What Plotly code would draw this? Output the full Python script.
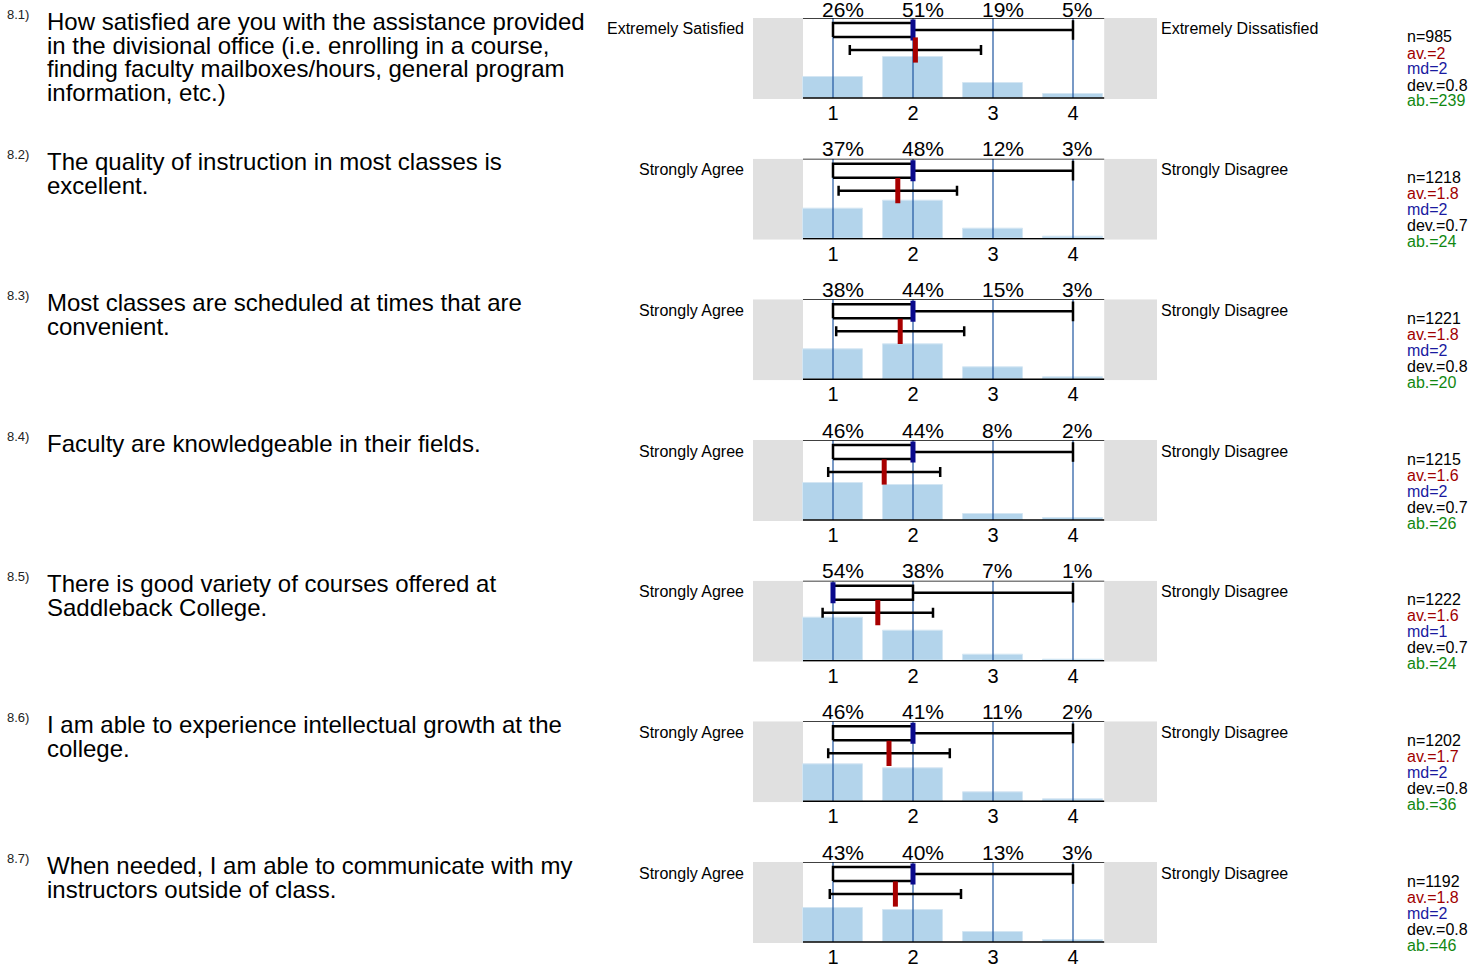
import plotly.graph_objects as go

# ---- data ----
q_ids = ["8.1)", "8.2)", "8.3)", "8.4)", "8.5)", "8.6)", "8.7)"]
questions = [
    ["How satisfied are you with the assistance provided",
     "in the divisional office (i.e. enrolling in a course,",
     "finding faculty mailboxes/hours, general program",
     "information, etc.)"],
    ["The quality of instruction in most classes is", "excellent."],
    ["Most classes are scheduled at times that are", "convenient."],
    ["Faculty are knowledgeable in their fields."],
    ["There is good variety of courses offered at", "Saddleback College."],
    ["I am able to experience intellectual growth at the", "college."],
    ["When needed, I am able to communicate with my", "instructors outside of class."],
]
left_labels = ["Extremely Satisfied"] + ["Strongly Agree"] * 6
right_labels = ["Extremely Dissatisfied"] + ["Strongly Disagree"] * 6
scale = [1, 2, 3, 4]
pcts = [
    [26, 51, 19, 5],
    [37, 48, 12, 3],
    [38, 44, 15, 3],
    [46, 44, 8, 2],
    [54, 38, 7, 1],
    [46, 41, 11, 2],
    [43, 40, 13, 3],
]
n_vals = [985, 1218, 1221, 1215, 1222, 1202, 1192]
means = [2.03, 1.81, 1.84, 1.64, 1.56, 1.70, 1.78]
devs = [0.82, 0.74, 0.80, 0.70, 0.69, 0.76, 0.82]
medians = [2, 2, 2, 2, 1, 2, 2]
q1s = [1, 1, 1, 1, 1, 1, 1]
q3s = [2, 2, 2, 2, 2, 2, 2]
mins = [1, 1, 1, 1, 1, 1, 1]
maxs = [4, 4, 4, 4, 4, 4, 4]
abstain = [239, 24, 20, 26, 24, 36, 46]

W, H = 1484, 968


def px(x):
    return x / W


def py(y):
    return 1 - y / H


FONT = "Liberation Sans, Arial, sans-serif"
BAR_COL = "#b3d4eb"
GRID_COL = "#1f55a0"
RED = "#a80000"
NAVY = "#0a0a8c"

fig = go.Figure()
layout = {}
shapes = []
annotations = []

for i in range(7):
    top = 18 + 140.67 * i
    bot = top + 80
    n = "" if i == 0 else str(i + 1)
    xa, ya = "x" + n, "y" + n

    layout["xaxis" + n] = dict(
        domain=[px(753), px(1157)], range=[0, 5.05], anchor=ya,
        tickvals=scale, ticktext=[str(s) for s in scale],
        tickfont=dict(size=20, color="black", family=FONT),
        showgrid=False, zeroline=False, showline=False, ticks="", fixedrange=True,
    )
    layout["yaxis" + n] = dict(
        domain=[py(bot + 1), py(top)], range=[-0.0125, 1], anchor=xa,
        showgrid=False, zeroline=False, showticklabels=False, fixedrange=True,
    )

    # grey side boxes and frame lines
    for x0, x1 in [(0, 0.625), (4.39, 5.05)]:
        shapes.append(dict(type="rect", xref=xa, yref=ya, x0=x0, x1=x1, y0=-0.0125, y1=1,
                           fillcolor="#e0e0e0", line=dict(width=0), layer="below"))
    for yy in [0, 1]:
        shapes.append(dict(type="line", xref=xa, yref=ya, x0=0.625, x1=4.39, y0=yy, y1=yy,
                           line=dict(color="black", width=1.5), layer="above"))

    # distribution bars
    fig.add_trace(go.Bar(
        x=scale, y=[p / 100 for p in pcts[i]], width=0.75, xaxis=xa, yaxis=ya,
        marker=dict(color=BAR_COL, line=dict(color="#d4e6f3", width=1)), hoverinfo="skip",
    ))

    # vertical scale lines
    vx, vy = [], []
    for s in scale:
        vx += [s, s, None]
        vy += [0, 1, None]
    fig.add_trace(go.Scatter(x=vx, y=vy, mode="lines", xaxis=xa, yaxis=ya,
                             line=dict(color=GRID_COL, width=1.2), hoverinfo="skip"))

    # box plot (quartiles + whiskers)
    yb, yt, yc = 0.763, 0.938, 0.85
    fig.add_trace(go.Scatter(
        x=[q1s[i], q3s[i], q3s[i], q1s[i], q1s[i], None, q3s[i], maxs[i], None, mins[i], q1s[i]],
        y=[yb, yb, yt, yt, yb, None, yc, yc, None, yc, yc],
        mode="lines", xaxis=xa, yaxis=ya, line=dict(color="black", width=2.5), hoverinfo="skip",
    ))
    fig.add_trace(go.Scatter(
        x=[maxs[i]], y=[yc], mode="markers", xaxis=xa, yaxis=ya,
        marker=dict(symbol="line-ns", size=14, line=dict(color="black", width=2.5)), hoverinfo="skip",
    ))
    fig.add_trace(go.Scatter(
        x=[medians[i]], y=[yc], mode="markers", xaxis=xa, yaxis=ya,
        marker=dict(symbol="line-ns", size=15, line=dict(color=NAVY, width=5)), hoverinfo="skip",
    ))

    # mean +/- standard deviation
    fig.add_trace(go.Scatter(
        x=[means[i]], y=[0.6], mode="markers", xaxis=xa, yaxis=ya,
        marker=dict(symbol="line-ns", size=18, line=dict(color=RED, width=5)),
        error_x=dict(type="data", array=[devs[i]], color="black", thickness=2.5, width=5),
        hoverinfo="skip",
    ))

    # percentages above (left-aligned just before each scale line)
    for s, p in zip(scale, pcts[i]):
        annotations.append(dict(xref=xa, yref="paper", x=s - 0.165, y=py(max(top - 10, 9)),
                                xanchor="left", yanchor="middle",
                                text=f"{p}%", showarrow=False,
                                font=dict(size=21, color="black", family=FONT)))

    # scale end labels
    annotations.append(dict(xref="paper", yref="paper", x=px(746), y=py(top + 11),
                            xanchor="right", yanchor="middle", text=left_labels[i], showarrow=False,
                            font=dict(size=16, color="black", family=FONT)))
    annotations.append(dict(xref="paper", yref="paper", x=px(1159), y=py(top + 11),
                            xanchor="left", yanchor="middle", text=right_labels[i], showarrow=False,
                            font=dict(size=16, color="black", family=FONT)))

    # question number and text
    annotations.append(dict(xref="paper", yref="paper", x=px(5), y=py(top - 4),
                            xanchor="left", yanchor="middle", text=q_ids[i], showarrow=False,
                            font=dict(size=13, color="#222222", family=FONT)))
    for k, line in enumerate(questions[i]):
        annotations.append(dict(xref="paper", yref="paper", x=px(45), y=py(top + 3 + 24 * k),
                                xanchor="left", yanchor="middle", text=line, showarrow=False,
                                font=dict(size=24, color="black", family=FONT)))

    # statistics
    stats = [
        (f"n={n_vals[i]}", "black"),
        (f"av.={round(means[i], 1):g}", "#a00000"),
        (f"md={medians[i]}", "#1a1aa0"),
        (f"dev.={round(devs[i], 1):g}", "black"),
        (f"ab.={abstain[i]}", "#118811"),
    ]
    for k, (txt, col) in enumerate(stats):
        annotations.append(dict(xref="paper", yref="paper", x=px(1405), y=py(top + 19 + 16 * k),
                                xanchor="left", yanchor="middle", text=txt, showarrow=False,
                                font=dict(size=16, color=col, family=FONT)))

fig.update_layout(
    width=W, height=H, margin=dict(l=0, r=0, t=0, b=0),
    plot_bgcolor="white", paper_bgcolor="white", showlegend=False, bargap=0,
    shapes=shapes, annotations=annotations, **layout,
)

# drop the page's default body margin so the figure fills the window exactly
fig.write_html("out.html", config={"displayModeBar": False},
               post_script="document.body.style.margin = '0';")
